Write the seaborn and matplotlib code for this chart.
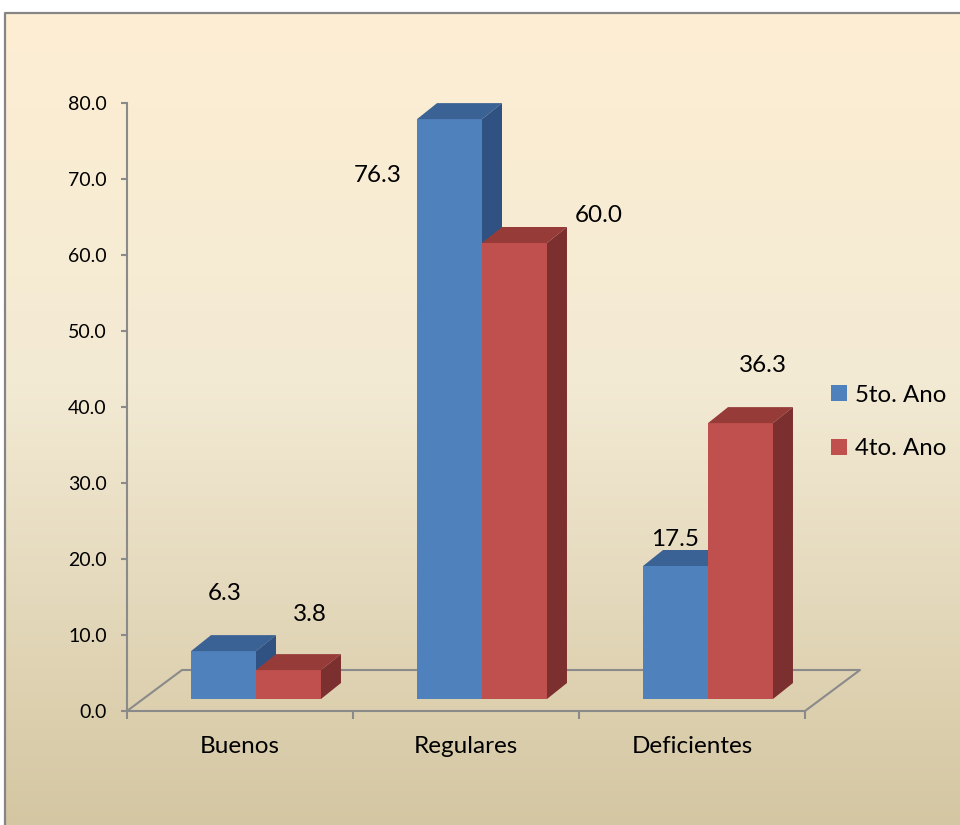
import numpy as np
import pandas as pd
import matplotlib
matplotlib.use("Agg")
import matplotlib.pyplot as plt
import matplotlib.transforms as mtrans
from matplotlib.patches import Polygon, Rectangle
from matplotlib.lines import Line2D
from matplotlib.colors import LinearSegmentedColormap, to_rgb
import seaborn as sns

# ---------------- data ----------------
categories = ["Buenos", "Regulares", "Deficientes"]
series = ["5to. Ano", "4to. Ano"]
values_5to = [6.3, 76.3, 17.5]
values_4to = [3.8, 60.0, 36.3]
y_ticks = [0, 10, 20, 30, 40, 50, 60, 70, 80]
y_tick_labels = [f"{t:.1f}" for t in y_ticks]

df = pd.DataFrame({
    "cat": categories * 2,
    "serie": [series[0]] * len(categories) + [series[1]] * len(categories),
    "val": values_5to + values_4to,
})

# ---------------- style ----------------
W, H, DPI = 9.6, 8.25, 100
sns.set_theme(style="white")
plt.rcParams["font.family"] = ["Lato", "DejaVu Sans"]
plt.rcParams["text.color"] = "black"

BLUE, RED = "#4F81BD", "#C0504D"
FACE = {BLUE: ("#3A6294", "#2F5282"), RED: ("#973B38", "#7B2F2E")}
GRAY = "#8A8A8A"

fig = plt.figure(figsize=(W, H), dpi=DPI)
fig.patch.set_facecolor("white")

# background panel with gradient (extends past the right and bottom edges)
top_frac = 1 - 12 / 825
bg = fig.add_axes([4 / 960, -0.02, 1.05, top_frac + 0.02])
cmap = LinearSegmentedColormap.from_list(
    "parch", [(0, "#FDEED3"), (0.45, "#F3EAD4"), (1, "#D3C5A0")])
grad = np.linspace(0, 1, 256).reshape(-1, 1)
bg.imshow(grad, aspect="auto", cmap=cmap, extent=[0, 1, 0, 1], origin="upper")
bg.set_axis_off()
# frame: only left and top edges are visible in the reference
fig.add_artist(Line2D([4.8 / 960, 4.8 / 960, 1.05], [-0.05, 1 - 12.8 / 825, 1 - 12.8 / 825],
                      transform=fig.transFigure, color="#858585", lw=1.6, zorder=0.5))

# main axes
ax = fig.add_axes([127 / 960, (825 - 711) / 825, 678 / 960, 608 / 825])
ax.set_facecolor("none")

sns.barplot(data=df, x="cat", y="val", hue="serie", hue_order=series,
            order=categories, palette=[BLUE, RED], width=0.575, gap=0,
            saturation=1, ax=ax, legend=False, edgecolor="none", linewidth=0,
            errorbar=None)

ax.set_xlim(-0.5, 2.5)
ax.set_ylim(0, 80)

# pseudo-3D: offset bars back into the floor and add top/side faces
px_x = 678 / 3.0
px_y = 608 / 80.0
off = mtrans.ScaledTranslation(16 / DPI, 12 / DPI, fig.dpi_scale_trans)
bar_tr = ax.transData + off
ddx, ddy = 20 / px_x, 16 / px_y

bars = [p for p in ax.patches if p.get_height() > 0]
for p in bars:
    fc = p.get_facecolor()
    is_blue = np.allclose(fc[:3], to_rgb(BLUE), atol=0.02)
    col = BLUE if is_blue else RED
    z = 2 if is_blue else 3
    p.set_transform(bar_tr)
    p.set_zorder(z)
    p.set_clip_on(False)
    x0, w, h = p.get_x(), p.get_width(), p.get_height()
    top = Polygon([(x0, h), (x0 + w, h), (x0 + w + ddx, h + ddy), (x0 + ddx, h + ddy)],
                  closed=True, transform=bar_tr, facecolor=FACE[col][0],
                  edgecolor="none", zorder=z + 0.1, clip_on=False)
    side = Polygon([(x0 + w, 0), (x0 + w + ddx, ddy), (x0 + w + ddx, h + ddy), (x0 + w, h)],
                   closed=True, transform=bar_tr, facecolor=FACE[col][1],
                   edgecolor="none", zorder=z + 0.1, clip_on=False)
    ax.add_patch(top)
    ax.add_patch(side)

# data labels (Excel places them irregularly around the 3D bars)
label_offsets = {
    series[0]: [(1, 58), (-72, -56), (0, 27)],
    series[1]: [(21, 56), (84, 28), (22, 58)],
}
half = 0.575 / 4
for s_idx, (s, vals) in enumerate(zip(series, [values_5to, values_4to])):
    for c_idx, v in enumerate(vals):
        cx = c_idx + (-half if s_idx == 0 else half)
        dx, dy = label_offsets[s][c_idx]
        ax.annotate(f"{v:.1f}", xy=(cx, v), xycoords=bar_tr, xytext=(dx, dy),
                    textcoords="offset pixels", ha="center", va="center",
                    fontsize=17.5, color="black", zorder=5,
                    annotation_clip=False)

# floor parallelogram
fx, fy = 55 / 678, 41 / 608
ax.plot([0, fx, 1 + fx, 1], [0, fy, fy, 0], transform=ax.transAxes,
        color=GRAY, lw=1.5, clip_on=False, zorder=1)

# axes styling
for s in ["top", "right"]:
    ax.spines[s].set_visible(False)
for s in ["left", "bottom"]:
    ax.spines[s].set_color(GRAY)
    ax.spines[s].set_linewidth(1.5)
    ax.spines[s].set_zorder(1)

ax.set_yticks(y_ticks)
ax.set_yticklabels(y_tick_labels)
ax.tick_params(axis="y", direction="out", length=4.5, width=1.5, color=GRAY,
               labelsize=14, labelcolor="black", pad=10, left=True)
ax.set_xticks(range(len(categories)))
ax.set_xticklabels(categories)
ax.set_xticks([-0.5, 0.5, 1.5, 2.5], minor=True)
ax.tick_params(axis="x", which="major", length=0, labelsize=17.5,
               labelcolor="black", pad=18)
ax.tick_params(axis="x", which="minor", direction="out", length=6, width=1.5,
               color=GRAY, bottom=True)
ax.set_xlabel("")
ax.set_ylabel("")
ax.grid(False)

# legend
handles = [Rectangle((0, 0), 1, 1, facecolor=c, edgecolor="none") for c in [BLUE, RED]]
fig.legend(handles, series, loc="center left",
           bbox_to_anchor=(831 / 960, 1 - 422 / 825), frameon=False,
           fontsize=17.3, handlelength=0.65, handleheight=0.65, handletextpad=0.35,
           labelspacing=1.35, borderpad=0, borderaxespad=0, labelcolor="black")

fig.savefig("out.png", dpi=DPI)
